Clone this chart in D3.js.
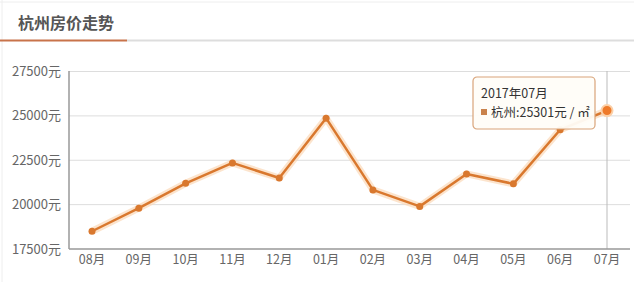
<!DOCTYPE html>
<html>
<head>
<meta charset="utf-8">
<script src="https://cdn.jsdelivr.net/npm/d3@7"></script>
<style>
  body { margin: 0; background: #fff; }
  svg { display: block; font-family: "Noto Sans CJK SC", "Noto Sans", sans-serif; }
</style>
</head>
<body>
<div id="vis"></div>
<script>
const width = 634;
const height = 282;

const months = ["08月", "09月", "10月", "11月", "12月", "01月", "02月", "03月", "04月", "05月", "06月", "07月"];
const prices = [18500, 19800, 21200, 22350, 21500, 24870, 20830, 19900, 21730, 21170, 24220, 25301];
const yTicks = [17500, 20000, 22500, 25000, 27500];

const svg = d3.select("#vis")
  .append("svg")
  .attr("width", width)
  .attr("height", height);

// header
svg.append("line")
  .attr("x1", 2).attr("x2", 2).attr("y1", 0).attr("y2", height)
  .attr("stroke", "#eee");
svg.append("line")
  .attr("x1", 0).attr("x2", width).attr("y1", 2).attr("y2", 2)
  .attr("stroke", "#eee");
svg.append("text")
  .attr("x", 18)
  .attr("y", 29)
  .attr("font-size", "16px")
  .attr("font-weight", "bold")
  .attr("fill", "#555")
  .text("杭州房价走势");
svg.append("line")
  .attr("x1", 127).attr("x2", width).attr("y1", 40.5).attr("y2", 40.5)
  .attr("stroke", "#ddd").attr("stroke-width", 2);
svg.append("line")
  .attr("x1", 0).attr("x2", 127).attr("y1", 40.5).attr("y2", 40.5)
  .attr("stroke", "#c8734a").attr("stroke-width", 2);

const x = d3.scalePoint()
  .domain(months)
  .range([92, 607]);

const y = d3.scaleLinear()
  .domain([17500, 27500])
  .range([249, 71.5]);

// gridlines
svg.append("g")
  .selectAll("line")
  .data(yTicks.slice(1))
  .enter()
  .append("line")
  .attr("x1", 69).attr("x2", 630)
  .attr("y1", d => y(d)).attr("y2", d => y(d))
  .attr("stroke", "#ddd");

// y labels
svg.append("g")
  .selectAll("text")
  .data(yTicks)
  .enter()
  .append("text")
  .attr("x", 61)
  .attr("y", d => y(d) + 4.5)
  .attr("text-anchor", "end")
  .attr("font-size", "13px")
  .attr("fill", "#666")
  .text(d => d + "元");

// x labels
svg.append("g")
  .selectAll("text")
  .data(months)
  .enter()
  .append("text")
  .attr("x", d => x(d))
  .attr("y", 264)
  .attr("text-anchor", "middle")
  .attr("font-size", "12.5px")
  .attr("fill", "#666")
  .text(d => d);

// crosshair
svg.append("line")
  .attr("x1", x("07月")).attr("x2", x("07月"))
  .attr("y1", 71).attr("y2", 249)
  .attr("stroke", "#bbb");

// axes
svg.append("line")
  .attr("x1", 69).attr("x2", 69).attr("y1", 71).attr("y2", 249)
  .attr("stroke", "#999").attr("stroke-width", 1.5);
svg.append("line")
  .attr("x1", 69).attr("x2", 630).attr("y1", 249).attr("y2", 249)
  .attr("stroke", "#999").attr("stroke-width", 1.5);

const series = months.map((m, i) => ({ month: m, value: prices[i] }));
const line = d3.line()
  .x(d => x(d.month))
  .y(d => y(d.value));

svg.append("path")
  .datum(series)
  .attr("fill", "none")
  .attr("stroke", "#fbd9b8")
  .attr("stroke-opacity", 0.7)
  .attr("stroke-width", 7)
  .attr("stroke-linejoin", "round")
  .attr("d", line);

svg.append("path")
  .datum(series)
  .attr("fill", "none")
  .attr("stroke", "#d9782e")
  .attr("stroke-width", 2.5)
  .attr("stroke-linejoin", "round")
  .attr("d", line);

svg.append("g")
  .selectAll("circle")
  .data(series)
  .enter()
  .append("circle")
  .attr("cx", d => x(d.month))
  .attr("cy", d => y(d.value))
  .attr("r", (d, i) => i === series.length - 1 ? 5.5 : 3.5)
  .attr("fill", (d, i) => i === series.length - 1 ? "#ee7a2a" : "#d9782e")
  .attr("stroke", (d, i) => i === series.length - 1 ? "#fbd0a8" : "none")
  .attr("stroke-width", 2);

// tooltip
const last = series[series.length - 1];
const tip = svg.append("g").attr("transform", "translate(473,77)");
tip.append("rect")
  .attr("width", 122).attr("height", 52)
  .attr("rx", 4)
  .attr("fill", "#fffdf8")
  .attr("fill-opacity", 0.95)
  .attr("stroke", "#d9a47a")
  .attr("stroke-width", 1.2);
tip.append("text")
  .attr("x", 8).attr("y", 21)
  .attr("font-size", "12.5px")
  .attr("fill", "#333")
  .text("2017年" + last.month);
tip.append("rect")
  .attr("x", 8).attr("y", 32)
  .attr("width", 6).attr("height", 6)
  .attr("fill", "#c9824b");
tip.append("text")
  .attr("x", 18).attr("y", 40)
  .attr("font-size", "12.5px")
  .attr("fill", "#333")
  .text("杭州:" + last.value + "元 / ㎡");
</script>
</body>
</html>
